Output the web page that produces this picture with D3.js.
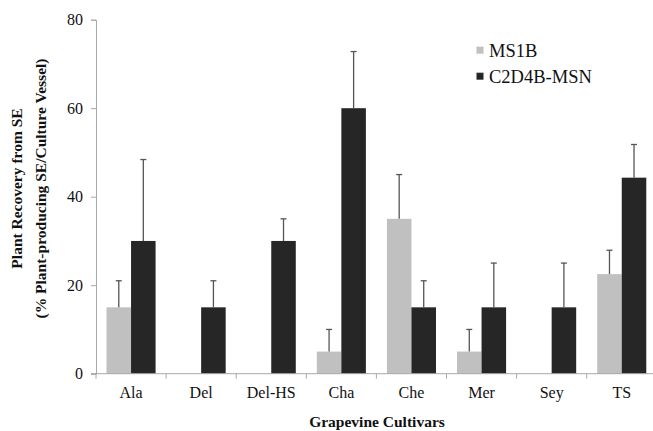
<!DOCTYPE html>
<html><head><meta charset="utf-8">
<script src="https://cdn.jsdelivr.net/npm/d3@7"></script>
<style>body{margin:0;background:#fff}svg{display:block}</style>
</head><body>
<script>
const categories = ["Ala","Del","Del-HS","Cha","Che","Mer","Sey","TS"];
const seriesNames = ["MS1B","C2D4B-MSN"];
const ms1b = [15,0,0,5,35,5,0,22.5];
const ms1bErr = [6,0,0,5,10,5,0,5.4];
const c2d4b = [30,15,30,60,15,15,15,44.3];
const c2d4bErr = [18.4,6,5,12.8,6,10,10,7.5];
const yTicks = [0,20,40,60,80];
const colors = ["#c0c0c0","#262626"];

const W=653,H=431;
const svg=d3.select("body").append("svg").attr("width",W).attr("height",H);
const font="'Liberation Serif','Times New Roman',serif";

const x0=d3.scaleBand().domain(categories).range([96,656.8]).paddingInner(0.3).paddingOuter(0.15);
const x1=d3.scaleBand().domain(seriesNames).range([0,x0.bandwidth()]);
const y=d3.scaleLinear().domain([0,80]).range([373.7,19.7]);

const data=categories.map((c,i)=>({c,vals:[{s:seriesNames[0],v:ms1b[i],e:ms1bErr[i]},{s:seriesNames[1],v:c2d4b[i],e:c2d4bErr[i]}]}));

const g=svg.selectAll("g.cat").data(data).enter().append("g").attr("transform",d=>`translate(${x0(d.c)},0)`);
g.selectAll("rect").data(d=>d.vals).enter().append("rect")
 .attr("x",d=>x1(d.s)).attr("width",x1.bandwidth())
 .attr("y",d=>y(d.v)).attr("height",d=>y(0)-y(d.v))
 .attr("fill",(d,i)=>colors[i]);
const eb=g.selectAll("g.err").data(d=>d.vals.filter(v=>v.e>0)).enter().append("g").attr("stroke","#555").attr("stroke-width",1.3);
eb.append("line").attr("x1",d=>x1(d.s)+x1.bandwidth()/2).attr("x2",d=>x1(d.s)+x1.bandwidth()/2)
 .attr("y1",d=>y(d.v)).attr("y2",d=>y(d.v+d.e));
eb.append("line").attr("x1",d=>x1(d.s)+x1.bandwidth()/2-3).attr("x2",d=>x1(d.s)+x1.bandwidth()/2+3)
 .attr("y1",d=>y(d.v+d.e)).attr("y2",d=>y(d.v+d.e));

// y axis
const ya=svg.append("g").attr("transform","translate(96,0)").call(d3.axisLeft(y).tickValues(yTicks).tickSize(5).tickPadding(8));
ya.select(".domain").attr("stroke","#a8a8a8");
ya.selectAll(".tick line").attr("stroke","#a8a8a8");
ya.selectAll("text").attr("font-family",font).attr("font-size","16px").attr("fill","#111");

// x axis
const xa=svg.append("g").attr("transform","translate(0,373.7)");
xa.append("line").attr("x1",91).attr("x2",657).attr("y1",0).attr("y2",0).attr("stroke","#a8a8a8");
const bounds=categories.map(c=>x0(c)-x0.step()*x0.paddingInner()/2).concat([x0(categories[categories.length-1])+x0.bandwidth()+x0.step()*x0.paddingInner()/2]);
xa.selectAll("line.t").data(bounds).enter().append("line").attr("x1",d=>d).attr("x2",d=>d).attr("y1",0).attr("y2",5).attr("stroke","#a8a8a8");
xa.selectAll("text").data(categories).enter().append("text")
 .attr("x",d=>x0(d)+x0.bandwidth()/2).attr("y",24.6).attr("text-anchor","middle")
 .attr("font-family",font).attr("font-size","16px").attr("fill","#111").text(d=>d);

// titles
svg.append("text").attr("x",377).attr("y",427).attr("text-anchor","middle").attr("font-family",font)
 .attr("font-weight","bold").attr("font-size","15.5px").attr("fill","#111").text("Grapevine Cultivars");
const yt=svg.append("text").attr("transform","translate(0,188.5) rotate(-90)").attr("text-anchor","middle")
 .attr("font-family",font).attr("font-weight","bold").attr("font-size","15.5px").attr("fill","#111");
yt.append("tspan").attr("x",0).attr("y",22).text("Plant Recovery from SE");
yt.append("tspan").attr("x",0).attr("y",45.5).text("(% Plant-producing SE/Culture Vessel)");

// legend
const lg=svg.selectAll("g.lg").data(seriesNames).enter().append("g").attr("transform",(d,i)=>`translate(476.5,${56.7+i*26})`);
lg.append("rect").attr("x",0).attr("y",-10).attr("width",7).attr("height",7).attr("fill",(d,i)=>colors[i]);
lg.append("text").attr("x",12.5).attr("y",0).attr("font-family",font).attr("font-size","18.5px").attr("fill","#111").text(d=>d);
</script>
</body></html>
